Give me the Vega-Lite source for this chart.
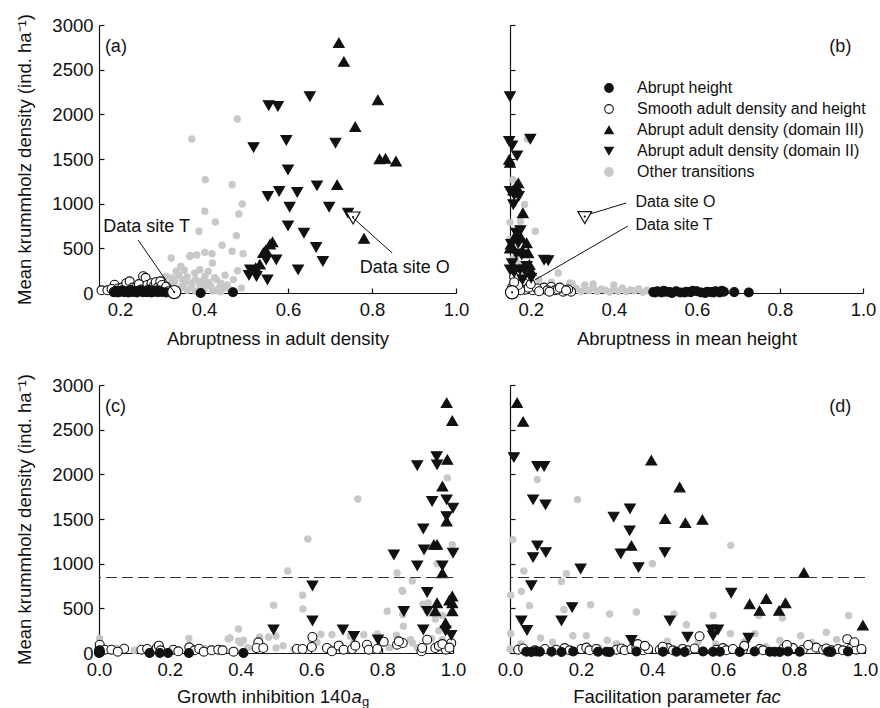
{
"$schema":"https://vega.github.io/schema/vega-lite/v6.json",
"background":"white",
"padding":{"left":15,"top":13,"right":0,"bottom":0},
"config":{"view":{"stroke":null},"font":"Liberation Sans",
"axis":{"grid":false,"labelFlush":false,"labelFont":"Liberation Sans","labelFontSize":18.5,"labelColor":"#111","titleFont":"Liberation Sans","titleFontSize":18.5,"titleFontWeight":"normal","titleColor":"#111","domainColor":"#111","tickColor":"#111","domainWidth":1.2,"tickWidth":1.2,"tickSize":-5},
"axisX":{"labelPadding":12,"titlePadding":11},
"axisY":{"labelPadding":11,"titlePadding":17},
"legend":{"symbolSize":75,"symbolStrokeWidth":1.1},
"text":{"font":"Liberation Sans","color":"#111"}},
"datasets":{
"a":[
{"x":0.479,"y":1948,"c":"O"},{"x":0.371,"y":1724,"c":"O"},{"x":0.403,"y":1269,"c":"O"},{"x":0.467,"y":1213,"c":"O"},{"x":0.491,"y":997,"c":"O"},{"x":0.402,"y":915,"c":"O"},{"x":0.483,"y":885,"c":"O"},{"x":0.427,"y":795,"c":"O"},{"x":0.388,"y":691,"c":"O"},{"x":0.477,"y":642,"c":"O"},{"x":0.443,"y":534,"c":"O"},{"x":0.322,"y":392,"c":"O"},{"x":0.368,"y":418,"c":"O"},{"x":0.383,"y":425,"c":"O"},{"x":0.402,"y":455,"c":"O"},{"x":0.419,"y":440,"c":"O"},{"x":0.467,"y":467,"c":"O"},{"x":0.493,"y":440,"c":"O"},{"x":0.42,"y":336,"c":"O"},{"x":0.345,"y":299,"c":"O"},{"x":0.334,"y":243,"c":"O"},{"x":0.353,"y":254,"c":"O"},{"x":0.378,"y":224,"c":"O"},{"x":0.402,"y":187,"c":"O"},{"x":0.416,"y":82,"c":"O"},{"x":0.371,"y":112,"c":"O"},{"x":0.39,"y":93,"c":"O"},{"x":0.349,"y":149,"c":"O"},{"x":0.324,"y":168,"c":"O"},{"x":0.31,"y":187,"c":"O"},{"x":0.436,"y":56,"c":"O"},{"x":0.462,"y":37,"c":"O"},{"x":0.489,"y":56,"c":"O"},{"x":0.366,"y":411,"c":"O"},{"x":0.34,"y":200,"c":"O"},{"x":0.36,"y":180,"c":"O"},{"x":0.33,"y":130,"c":"O"},{"x":0.35,"y":90,"c":"O"},{"x":0.37,"y":60,"c":"O"},{"x":0.38,"y":150,"c":"O"},{"x":0.395,"y":130,"c":"O"},{"x":0.41,"y":120,"c":"O"},{"x":0.425,"y":170,"c":"O"},{"x":0.44,"y":110,"c":"O"},{"x":0.455,"y":90,"c":"O"},{"x":0.36,"y":30,"c":"O"},{"x":0.38,"y":20,"c":"O"},{"x":0.4,"y":40,"c":"O"},{"x":0.42,"y":25,"c":"O"},{"x":0.44,"y":15,"c":"O"},{"x":0.45,"y":60,"c":"O"},{"x":0.34,"y":40,"c":"O"},{"x":0.345,"y":60,"c":"O"},{"x":0.355,"y":120,"c":"O"},{"x":0.39,"y":260,"c":"O"},{"x":0.41,"y":240,"c":"O"},{"x":0.43,"y":150,"c":"O"},{"x":0.45,"y":200,"c":"O"},{"x":0.47,"y":150,"c":"O"},{"x":0.32,"y":100,"c":"O"},{"x":0.3,"y":150,"c":"O"},{"x":0.28,"y":120,"c":"O"},{"x":0.31,"y":60,"c":"O"},{"x":0.4,"y":75,"c":"O"},{"x":0.43,"y":30,"c":"O"},{"x":0.48,"y":250,"c":"O"},
{"x":0.156,"y":30,"c":"S"},{"x":0.17,"y":30,"c":"S"},{"x":0.187,"y":93,"c":"S"},{"x":0.195,"y":50,"c":"S"},{"x":0.205,"y":60,"c":"S"},{"x":0.215,"y":110,"c":"S"},{"x":0.223,"y":131,"c":"S"},{"x":0.23,"y":60,"c":"S"},{"x":0.24,"y":70,"c":"S"},{"x":0.245,"y":100,"c":"S"},{"x":0.255,"y":187,"c":"S"},{"x":0.261,"y":170,"c":"S"},{"x":0.265,"y":90,"c":"S"},{"x":0.27,"y":50,"c":"S"},{"x":0.275,"y":110,"c":"S"},{"x":0.28,"y":75,"c":"S"},{"x":0.285,"y":120,"c":"S"},{"x":0.29,"y":60,"c":"S"},{"x":0.296,"y":131,"c":"S"},{"x":0.3,"y":90,"c":"S"},{"x":0.305,"y":40,"c":"S"},{"x":0.31,"y":70,"c":"S"},{"x":0.315,"y":20,"c":"S"},{"x":0.2,"y":20,"c":"S"},{"x":0.18,"y":45,"c":"S"},{"x":0.25,"y":40,"c":"S"},{"x":0.29,"y":30,"c":"S"},
{"x":0.185,"y":10,"c":"H"},{"x":0.19,"y":25,"c":"H"},{"x":0.195,"y":5,"c":"H"},{"x":0.2,"y":15,"c":"H"},{"x":0.205,"y":30,"c":"H"},{"x":0.21,"y":8,"c":"H"},{"x":0.215,"y":20,"c":"H"},{"x":0.22,"y":5,"c":"H"},{"x":0.225,"y":35,"c":"H"},{"x":0.23,"y":12,"c":"H"},{"x":0.235,"y":25,"c":"H"},{"x":0.24,"y":5,"c":"H"},{"x":0.245,"y":18,"c":"H"},{"x":0.25,"y":30,"c":"H"},{"x":0.255,"y":8,"c":"H"},{"x":0.26,"y":20,"c":"H"},{"x":0.265,"y":10,"c":"H"},{"x":0.27,"y":35,"c":"H"},{"x":0.275,"y":5,"c":"H"},{"x":0.28,"y":15,"c":"H"},{"x":0.285,"y":25,"c":"H"},{"x":0.29,"y":8,"c":"H"},{"x":0.295,"y":20,"c":"H"},{"x":0.3,"y":12,"c":"H"},{"x":0.31,"y":5,"c":"H"},{"x":0.392,"y":0,"c":"H"},{"x":0.469,"y":8,"c":"H"},
{"x":0.721,"y":2800,"c":"U"},{"x":0.733,"y":2590,"c":"U"},{"x":0.814,"y":2160,"c":"U"},{"x":0.76,"y":1860,"c":"U"},{"x":0.818,"y":1500,"c":"U"},{"x":0.832,"y":1505,"c":"U"},{"x":0.857,"y":1475,"c":"U"},{"x":0.717,"y":1210,"c":"U"},{"x":0.781,"y":610,"c":"U"},{"x":0.563,"y":570,"c":"U"},{"x":0.557,"y":545,"c":"U"},{"x":0.547,"y":480,"c":"U"},{"x":0.541,"y":450,"c":"U"},{"x":0.533,"y":320,"c":"U"},{"x":0.523,"y":280,"c":"U"},
{"x":0.554,"y":2100,"c":"D"},{"x":0.576,"y":2090,"c":"D"},{"x":0.652,"y":2200,"c":"D"},{"x":0.518,"y":1630,"c":"D"},{"x":0.596,"y":1710,"c":"D"},{"x":0.713,"y":1680,"c":"D"},{"x":0.6,"y":1380,"c":"D"},{"x":0.552,"y":1083,"c":"D"},{"x":0.579,"y":1139,"c":"D"},{"x":0.622,"y":1128,"c":"D"},{"x":0.669,"y":1202,"c":"D"},{"x":0.604,"y":963,"c":"D"},{"x":0.698,"y":963,"c":"D"},{"x":0.743,"y":896,"c":"D"},{"x":0.6,"y":754,"c":"D"},{"x":0.638,"y":672,"c":"D"},{"x":0.667,"y":512,"c":"D"},{"x":0.572,"y":373,"c":"D"},{"x":0.548,"y":373,"c":"D"},{"x":0.683,"y":355,"c":"D"},{"x":0.624,"y":261,"c":"D"},{"x":0.51,"y":261,"c":"D"},{"x":0.507,"y":200,"c":"D"},{"x":0.525,"y":187,"c":"D"},{"x":0.551,"y":149,"c":"D"}
],
"b":[
{"x":0.192,"y":1724,"c":"O"},{"x":0.157,"y":1269,"c":"O"},{"x":0.185,"y":990,"c":"O"},{"x":0.15,"y":791,"c":"O"},{"x":0.211,"y":691,"c":"O"},{"x":0.16,"y":500,"c":"O"},{"x":0.165,"y":420,"c":"O"},{"x":0.19,"y":260,"c":"O"},{"x":0.155,"y":380,"c":"O"},{"x":0.17,"y":330,"c":"O"},{"x":0.266,"y":224,"c":"O"},{"x":0.294,"y":112,"c":"O"},{"x":0.33,"y":90,"c":"O"},{"x":0.16,"y":1000,"c":"O"},{"x":0.175,"y":800,"c":"O"},{"x":0.15,"y":600,"c":"O"},{"x":0.2,"y":60,"c":"O"},{"x":0.21,"y":30,"c":"O"},{"x":0.22,"y":80,"c":"O"},{"x":0.23,"y":20,"c":"O"},{"x":0.24,"y":50,"c":"O"},{"x":0.25,"y":10,"c":"O"},{"x":0.26,"y":70,"c":"O"},{"x":0.27,"y":40,"c":"O"},{"x":0.28,"y":20,"c":"O"},{"x":0.29,"y":60,"c":"O"},{"x":0.3,"y":30,"c":"O"},{"x":0.31,"y":50,"c":"O"},{"x":0.32,"y":15,"c":"O"},{"x":0.33,"y":40,"c":"O"},{"x":0.34,"y":25,"c":"O"},{"x":0.35,"y":60,"c":"O"},{"x":0.36,"y":20,"c":"O"},{"x":0.37,"y":45,"c":"O"},{"x":0.38,"y":30,"c":"O"},{"x":0.39,"y":10,"c":"O"},{"x":0.4,"y":40,"c":"O"},{"x":0.41,"y":20,"c":"O"},{"x":0.42,"y":55,"c":"O"},{"x":0.43,"y":15,"c":"O"},{"x":0.44,"y":35,"c":"O"},{"x":0.45,"y":25,"c":"O"},{"x":0.46,"y":45,"c":"O"},{"x":0.47,"y":10,"c":"O"},{"x":0.48,"y":30,"c":"O"},{"x":0.49,"y":20,"c":"O"},{"x":0.5,"y":10,"c":"O"},{"x":0.35,"y":100,"c":"O"},{"x":0.4,"y":90,"c":"O"},{"x":0.3,"y":100,"c":"O"},{"x":0.25,"y":120,"c":"O"},{"x":0.22,"y":150,"c":"O"},{"x":0.18,"y":200,"c":"O"},{"x":0.17,"y":120,"c":"O"},{"x":0.155,"y":60,"c":"O"},
{"x":0.16,"y":179,"c":"S"},{"x":0.183,"y":112,"c":"S"},{"x":0.186,"y":37,"c":"S"},{"x":0.205,"y":30,"c":"S"},{"x":0.225,"y":37,"c":"S"},{"x":0.232,"y":60,"c":"S"},{"x":0.249,"y":67,"c":"S"},{"x":0.258,"y":30,"c":"S"},{"x":0.278,"y":15,"c":"S"},{"x":0.297,"y":15,"c":"S"},{"x":0.155,"y":60,"c":"S"},{"x":0.165,"y":40,"c":"S"},{"x":0.175,"y":30,"c":"S"},{"x":0.17,"y":90,"c":"S"},{"x":0.195,"y":60,"c":"S"},{"x":0.215,"y":50,"c":"S"},{"x":0.24,"y":30,"c":"S"},{"x":0.265,"y":40,"c":"S"},{"x":0.27,"y":60,"c":"S"},{"x":0.29,"y":40,"c":"S"},{"x":0.2,"y":100,"c":"S"},{"x":0.22,"y":20,"c":"S"},{"x":0.245,"y":15,"c":"S"},{"x":0.285,"y":30,"c":"S"},{"x":0.16,"y":120,"c":"S"},
{"x":0.495,"y":10,"c":"H"},{"x":0.5,"y":5,"c":"H"},{"x":0.505,"y":20,"c":"H"},{"x":0.515,"y":5,"c":"H"},{"x":0.52,"y":25,"c":"H"},{"x":0.525,"y":15,"c":"H"},{"x":0.535,"y":10,"c":"H"},{"x":0.54,"y":0,"c":"H"},{"x":0.55,"y":20,"c":"H"},{"x":0.56,"y":5,"c":"H"},{"x":0.57,"y":5,"c":"H"},{"x":0.575,"y":15,"c":"H"},{"x":0.585,"y":10,"c":"H"},{"x":0.59,"y":25,"c":"H"},{"x":0.6,"y":20,"c":"H"},{"x":0.61,"y":5,"c":"H"},{"x":0.62,"y":0,"c":"H"},{"x":0.625,"y":15,"c":"H"},{"x":0.635,"y":10,"c":"H"},{"x":0.64,"y":5,"c":"H"},{"x":0.645,"y":20,"c":"H"},{"x":0.655,"y":5,"c":"H"},{"x":0.66,"y":25,"c":"H"},{"x":0.665,"y":15,"c":"H"},{"x":0.69,"y":10,"c":"H"},{"x":0.725,"y":5,"c":"H"},
{"x":0.148,"y":1493,"c":"U"},{"x":0.15,"y":1460,"c":"U"},{"x":0.165,"y":1195,"c":"U"},{"x":0.158,"y":1150,"c":"U"},{"x":0.17,"y":1230,"c":"U"},{"x":0.181,"y":896,"c":"U"},{"x":0.177,"y":616,"c":"U"},{"x":0.19,"y":560,"c":"U"},{"x":0.152,"y":545,"c":"U"},{"x":0.194,"y":448,"c":"U"},{"x":0.197,"y":317,"c":"U"},{"x":0.15,"y":500,"c":"U"},{"x":0.18,"y":470,"c":"U"},{"x":0.2,"y":250,"c":"U"},{"x":0.165,"y":660,"c":"U"},
{"x":0.15,"y":2200,"c":"D"},{"x":0.199,"y":1724,"c":"D"},{"x":0.148,"y":1700,"c":"D"},{"x":0.167,"y":1538,"c":"D"},{"x":0.15,"y":1140,"c":"D"},{"x":0.171,"y":1083,"c":"D"},{"x":0.158,"y":990,"c":"D"},{"x":0.165,"y":672,"c":"D"},{"x":0.153,"y":545,"c":"D"},{"x":0.178,"y":430,"c":"D"},{"x":0.242,"y":365,"c":"D"},{"x":0.232,"y":370,"c":"D"},{"x":0.15,"y":261,"c":"D"},{"x":0.174,"y":261,"c":"D"},{"x":0.201,"y":168,"c":"D"},{"x":0.155,"y":1650,"c":"D"},{"x":0.16,"y":1100,"c":"D"},{"x":0.175,"y":700,"c":"D"},{"x":0.16,"y":230,"c":"D"},{"x":0.19,"y":300,"c":"D"},{"x":0.17,"y":560,"c":"D"},{"x":0.185,"y":260,"c":"D"},{"x":0.155,"y":330,"c":"D"},{"x":0.18,"y":150,"c":"D"},{"x":0.165,"y":440,"c":"D"}
],
"c":[
{"x":0.731,"y":1724,"c":"O"},{"x":0.59,"y":1277,"c":"O"},{"x":0.533,"y":918,"c":"O"},{"x":0.842,"y":896,"c":"O"},{"x":0.885,"y":806,"c":"O"},{"x":0.575,"y":646,"c":"O"},{"x":0.858,"y":690,"c":"O"},{"x":0.493,"y":534,"c":"O"},{"x":0.576,"y":493,"c":"O"},{"x":0.814,"y":467,"c":"O"},{"x":0.858,"y":430,"c":"O"},{"x":0.915,"y":545,"c":"O"},{"x":0.394,"y":269,"c":"O"},{"x":0.254,"y":164,"c":"O"},{"x":0.365,"y":157,"c":"O"},{"x":0.394,"y":134,"c":"O"},{"x":0.408,"y":142,"c":"O"},{"x":0.454,"y":179,"c":"O"},{"x":0.479,"y":179,"c":"O"},{"x":0.5,"y":56,"c":"O"},{"x":0.616,"y":120,"c":"O"},{"x":0.658,"y":205,"c":"O"},{"x":0.748,"y":205,"c":"O"},{"x":0.786,"y":213,"c":"O"},{"x":0.885,"y":112,"c":"O"},{"x":0.002,"y":164,"c":"O"},{"x":0.984,"y":1960,"c":"O"},{"x":0.998,"y":1213,"c":"O"},{"x":0.955,"y":1000,"c":"O"},{"x":0.856,"y":702,"c":"O"},{"x":0.93,"y":560,"c":"O"},{"x":0.86,"y":480,"c":"O"},{"x":0.93,"y":470,"c":"O"},{"x":0.96,"y":250,"c":"O"},{"x":0.94,"y":160,"c":"O"},{"x":0.97,"y":150,"c":"O"},{"x":0.37,"y":168,"c":"O"},{"x":0.4,"y":112,"c":"O"},{"x":0.5,"y":190,"c":"O"},{"x":0.52,"y":80,"c":"O"},{"x":0.627,"y":209,"c":"O"},{"x":0.6,"y":150,"c":"O"},{"x":0.71,"y":190,"c":"O"},{"x":0.8,"y":120,"c":"O"},{"x":0.84,"y":200,"c":"O"},{"x":0.88,"y":150,"c":"O"},{"x":0.9,"y":60,"c":"O"},{"x":0.82,"y":60,"c":"O"},{"x":0.76,"y":80,"c":"O"},{"x":0.68,"y":100,"c":"O"},{"x":0.55,"y":40,"c":"O"},{"x":0.45,"y":80,"c":"O"},{"x":0.42,"y":60,"c":"O"},{"x":0.3,"y":50,"c":"O"},{"x":0.1,"y":30,"c":"O"},{"x":0.05,"y":50,"c":"O"},{"x":0.65,"y":60,"c":"O"},{"x":0.72,"y":120,"c":"O"},{"x":0.86,"y":300,"c":"O"},{"x":0.95,"y":380,"c":"O"},{"x":0.97,"y":420,"c":"O"},
{"x":0.002,"y":56,"c":"S"},{"x":0.002,"y":93,"c":"S"},{"x":0.017,"y":37,"c":"S"},{"x":0.035,"y":37,"c":"S"},{"x":0.071,"y":48,"c":"S"},{"x":0.053,"y":15,"c":"S"},{"x":0.12,"y":37,"c":"S"},{"x":0.136,"y":45,"c":"S"},{"x":0.163,"y":56,"c":"S"},{"x":0.169,"y":82,"c":"S"},{"x":0.174,"y":30,"c":"S"},{"x":0.21,"y":37,"c":"S"},{"x":0.224,"y":19,"c":"S"},{"x":0.255,"y":63,"c":"S"},{"x":0.27,"y":30,"c":"S"},{"x":0.283,"y":48,"c":"S"},{"x":0.296,"y":15,"c":"S"},{"x":0.318,"y":30,"c":"S"},{"x":0.337,"y":37,"c":"S"},{"x":0.349,"y":30,"c":"S"},{"x":0.38,"y":15,"c":"S"},{"x":0.45,"y":119,"c":"S"},{"x":0.445,"y":56,"c":"S"},{"x":0.464,"y":56,"c":"S"},{"x":0.559,"y":45,"c":"S"},{"x":0.575,"y":45,"c":"S"},{"x":0.601,"y":67,"c":"S"},{"x":0.603,"y":179,"c":"S"},{"x":0.644,"y":56,"c":"S"},{"x":0.658,"y":19,"c":"S"},{"x":0.677,"y":82,"c":"S"},{"x":0.691,"y":37,"c":"S"},{"x":0.715,"y":45,"c":"S"},{"x":0.724,"y":82,"c":"S"},{"x":0.757,"y":93,"c":"S"},{"x":0.762,"y":37,"c":"S"},{"x":0.786,"y":45,"c":"S"},{"x":0.804,"y":127,"c":"S"},{"x":0.842,"y":93,"c":"S"},{"x":0.858,"y":112,"c":"S"},{"x":0.911,"y":19,"c":"S"},{"x":0.927,"y":149,"c":"S"},{"x":0.95,"y":56,"c":"S"},{"x":0.847,"y":131,"c":"S"},{"x":0.913,"y":56,"c":"S"},{"x":0.96,"y":80,"c":"S"},{"x":0.98,"y":37,"c":"S"},{"x":0.995,"y":110,"c":"S"},{"x":0.97,"y":100,"c":"S"},{"x":0.99,"y":60,"c":"S"},
{"x":0,"y":0,"c":"H"},{"x":0,"y":15,"c":"H"},{"x":0.002,"y":30,"c":"H"},{"x":0.003,"y":8,"c":"H"},{"x":0,"y":22,"c":"H"},{"x":0.143,"y":0,"c":"H"},{"x":0.172,"y":0,"c":"H"},{"x":0.195,"y":0,"c":"H"},{"x":0.254,"y":0,"c":"H"},{"x":0.408,"y":0,"c":"H"},
{"x":0.982,"y":2800,"c":"U"},{"x":0.998,"y":2600,"c":"U"},{"x":0.984,"y":2165,"c":"U"},{"x":0.97,"y":1866,"c":"U"},{"x":0.982,"y":1475,"c":"U"},{"x":0.946,"y":1213,"c":"U"},{"x":0.955,"y":1213,"c":"U"},{"x":0.97,"y":895,"c":"U"},{"x":0.998,"y":635,"c":"U"},{"x":0.998,"y":560,"c":"U"},{"x":0.955,"y":560,"c":"U"},{"x":0.95,"y":470,"c":"U"},{"x":0.979,"y":336,"c":"U"},{"x":0.998,"y":470,"c":"U"},{"x":0.99,"y":590,"c":"U"},
{"x":0.899,"y":2100,"c":"D"},{"x":0.955,"y":2109,"c":"D"},{"x":0.954,"y":2200,"c":"D"},{"x":0.941,"y":1698,"c":"D"},{"x":0.982,"y":1717,"c":"D"},{"x":1.0,"y":1624,"c":"D"},{"x":0.982,"y":1530,"c":"D"},{"x":0.916,"y":1392,"c":"D"},{"x":0.918,"y":1157,"c":"D"},{"x":1.0,"y":1120,"c":"D"},{"x":0.833,"y":1101,"c":"D"},{"x":0.899,"y":978,"c":"D"},{"x":0.97,"y":978,"c":"D"},{"x":0.927,"y":680,"c":"D"},{"x":0.603,"y":754,"c":"D"},{"x":0.861,"y":467,"c":"D"},{"x":0.927,"y":467,"c":"D"},{"x":0.603,"y":362,"c":"D"},{"x":0.493,"y":261,"c":"D"},{"x":0.689,"y":261,"c":"D"},{"x":0.72,"y":187,"c":"D"},{"x":0.788,"y":149,"c":"D"},{"x":0.916,"y":261,"c":"D"},{"x":0.979,"y":250,"c":"D"},{"x":0.995,"y":200,"c":"D"}
],
"d":[
{"x":0.077,"y":1941,"c":"O"},{"x":0.19,"y":1717,"c":"O"},{"x":0.008,"y":1269,"c":"O"},{"x":0.622,"y":1205,"c":"O"},{"x":0.401,"y":1000,"c":"O"},{"x":0.039,"y":918,"c":"O"},{"x":0.159,"y":888,"c":"O"},{"x":0.145,"y":799,"c":"O"},{"x":0.032,"y":690,"c":"O"},{"x":0.002,"y":646,"c":"O"},{"x":0.227,"y":541,"c":"O"},{"x":0.055,"y":530,"c":"O"},{"x":0.152,"y":485,"c":"O"},{"x":0.281,"y":436,"c":"O"},{"x":0.356,"y":459,"c":"O"},{"x":0.462,"y":436,"c":"O"},{"x":0.572,"y":421,"c":"O"},{"x":0.701,"y":421,"c":"O"},{"x":0.767,"y":391,"c":"O"},{"x":0.954,"y":421,"c":"O"},{"x":0.002,"y":216,"c":"O"},{"x":0.086,"y":168,"c":"O"},{"x":0.177,"y":194,"c":"O"},{"x":0.215,"y":194,"c":"O"},{"x":0.274,"y":142,"c":"O"},{"x":0.443,"y":131,"c":"O"},{"x":0.497,"y":317,"c":"O"},{"x":0.621,"y":216,"c":"O"},{"x":0.69,"y":216,"c":"O"},{"x":0.76,"y":140,"c":"O"},{"x":0.819,"y":194,"c":"O"},{"x":0.891,"y":231,"c":"O"},{"x":0.92,"y":150,"c":"O"},{"x":0.0,"y":44,"c":"O"},{"x":0.03,"y":100,"c":"O"},{"x":0.12,"y":120,"c":"O"},{"x":0.3,"y":100,"c":"O"},{"x":0.38,"y":80,"c":"O"},{"x":0.53,"y":120,"c":"O"},{"x":0.58,"y":100,"c":"O"},{"x":0.66,"y":130,"c":"O"},{"x":0.85,"y":120,"c":"O"},{"x":0.97,"y":90,"c":"O"},{"x":0.25,"y":60,"c":"O"},{"x":0.48,"y":60,"c":"O"},{"x":0.72,"y":70,"c":"O"},
{"x":0.023,"y":37,"c":"S"},{"x":0.037,"y":50,"c":"S"},{"x":0.07,"y":30,"c":"S"},{"x":0.098,"y":45,"c":"S"},{"x":0.13,"y":37,"c":"S"},{"x":0.154,"y":55,"c":"S"},{"x":0.168,"y":30,"c":"S"},{"x":0.201,"y":45,"c":"S"},{"x":0.215,"y":60,"c":"S"},{"x":0.224,"y":30,"c":"S"},{"x":0.243,"y":45,"c":"S"},{"x":0.3,"y":37,"c":"S"},{"x":0.314,"y":50,"c":"S"},{"x":0.323,"y":30,"c":"S"},{"x":0.342,"y":45,"c":"S"},{"x":0.356,"y":60,"c":"S"},{"x":0.375,"y":30,"c":"S"},{"x":0.389,"y":45,"c":"S"},{"x":0.422,"y":37,"c":"S"},{"x":0.445,"y":55,"c":"S"},{"x":0.459,"y":30,"c":"S"},{"x":0.487,"y":45,"c":"S"},{"x":0.501,"y":30,"c":"S"},{"x":0.52,"y":50,"c":"S"},{"x":0.581,"y":37,"c":"S"},{"x":0.6,"y":55,"c":"S"},{"x":0.609,"y":30,"c":"S"},{"x":0.628,"y":45,"c":"S"},{"x":0.656,"y":37,"c":"S"},{"x":0.703,"y":45,"c":"S"},{"x":0.713,"y":30,"c":"S"},{"x":0.769,"y":45,"c":"S"},{"x":0.783,"y":30,"c":"S"},{"x":0.797,"y":55,"c":"S"},{"x":0.825,"y":37,"c":"S"},{"x":0.863,"y":60,"c":"S"},{"x":0.882,"y":37,"c":"S"},{"x":0.891,"y":50,"c":"S"},{"x":0.905,"y":30,"c":"S"},{"x":0.924,"y":45,"c":"S"},{"x":0.938,"y":30,"c":"S"},{"x":0.961,"y":50,"c":"S"},{"x":0.975,"y":37,"c":"S"},{"x":0.99,"y":45,"c":"S"},{"x":0.534,"y":187,"c":"S"},{"x":0.36,"y":100,"c":"S"},{"x":0.95,"y":155,"c":"S"},{"x":0.97,"y":120,"c":"S"},{"x":0.38,"y":80,"c":"S"},{"x":0.43,"y":70,"c":"S"},{"x":0.66,"y":80,"c":"S"},{"x":0.78,"y":90,"c":"S"},{"x":0.84,"y":90,"c":"S"},
{"x":0.046,"y":15,"c":"H"},{"x":0.06,"y":12,"c":"H"},{"x":0.074,"y":18,"c":"H"},{"x":0.084,"y":14,"c":"H"},{"x":0.117,"y":15,"c":"H"},{"x":0.145,"y":12,"c":"H"},{"x":0.178,"y":16,"c":"H"},{"x":0.248,"y":14,"c":"H"},{"x":0.272,"y":15,"c":"H"},{"x":0.281,"y":12,"c":"H"},{"x":0.356,"y":16,"c":"H"},{"x":0.431,"y":14,"c":"H"},{"x":0.469,"y":15,"c":"H"},{"x":0.492,"y":12,"c":"H"},{"x":0.544,"y":16,"c":"H"},{"x":0.572,"y":14,"c":"H"},{"x":0.591,"y":15,"c":"H"},{"x":0.647,"y":12,"c":"H"},{"x":0.689,"y":16,"c":"H"},{"x":0.732,"y":14,"c":"H"},{"x":0.746,"y":15,"c":"H"},{"x":0.76,"y":12,"c":"H"},{"x":0.783,"y":16,"c":"H"},{"x":0.816,"y":14,"c":"H"},{"x":0.896,"y":15,"c":"H"},{"x":0.905,"y":12,"c":"H"},{"x":0.952,"y":16,"c":"H"},
{"x":0.02,"y":2800,"c":"U"},{"x":0.037,"y":2590,"c":"U"},{"x":0.398,"y":2157,"c":"U"},{"x":0.478,"y":1856,"c":"U"},{"x":0.437,"y":1501,"c":"U"},{"x":0.494,"y":1456,"c":"U"},{"x":0.542,"y":1493,"c":"U"},{"x":0.342,"y":1202,"c":"U"},{"x":0.828,"y":898,"c":"U"},{"x":0.675,"y":548,"c":"U"},{"x":0.722,"y":608,"c":"U"},{"x":0.703,"y":474,"c":"U"},{"x":0.758,"y":474,"c":"U"},{"x":0.776,"y":560,"c":"U"},{"x":0.994,"y":310,"c":"U"},
{"x":0.011,"y":2190,"c":"D"},{"x":0.077,"y":2090,"c":"D"},{"x":0.096,"y":2090,"c":"D"},{"x":0.065,"y":1717,"c":"D"},{"x":0.1,"y":1661,"c":"D"},{"x":0.292,"y":1523,"c":"D"},{"x":0.338,"y":1616,"c":"D"},{"x":0.337,"y":1370,"c":"D"},{"x":0.077,"y":1202,"c":"D"},{"x":0.065,"y":1071,"c":"D"},{"x":0.101,"y":1127,"c":"D"},{"x":0.312,"y":1112,"c":"D"},{"x":0.436,"y":1127,"c":"D"},{"x":0.199,"y":943,"c":"D"},{"x":0.362,"y":959,"c":"D"},{"x":0.06,"y":755,"c":"D"},{"x":0.623,"y":672,"c":"D"},{"x":0.175,"y":511,"c":"D"},{"x":0.032,"y":362,"c":"D"},{"x":0.145,"y":362,"c":"D"},{"x":0.45,"y":362,"c":"D"},{"x":0.048,"y":254,"c":"D"},{"x":0.567,"y":261,"c":"D"},{"x":0.586,"y":261,"c":"D"},{"x":0.572,"y":194,"c":"D"},{"x":0.5,"y":179,"c":"D"},{"x":0.342,"y":142,"c":"D"},{"x":0.672,"y":168,"c":"D"}
]
},
"bounds":"flush",
"columns":2,
"spacing":{"row":92,"column":54},
"concat":[
{"width":357,"height":268,"layer":[
 {"data":{"name":"a"},"mark":{"type":"point","filled":true,"opacity":1,"strokeWidth":1.1},
  "encoding":{
   "x":{"field":"x","type":"quantitative","scale":{"domain":[0.15,1],"nice":false,"zero":false,"padding":0},"axis":{"values":[0.2,0.4,0.6,0.8,1],"format":".1f","title":"Abruptness in adult density"}},
   "y":{"field":"y","type":"quantitative","scale":{"domain":[0,3000],"nice":false,"padding":0},"axis":{"values":[0,500,1000,1500,2000,2500,3000],"format":"d","title":"Mean krummholz density (ind. ha⁻¹)"}},
   "shape":{"field":"c","type":"nominal","scale":{"domain":["H","S","U","D","O"],"range":["circle","circle","triangle-up","triangle-down","circle"]}},
   "fill":{"field":"c","type":"nominal","scale":{"domain":["H","S","U","D","O"],"range":["#111111","#ffffff","#111111","#111111","#c8c8c8"]}},
   "stroke":{"field":"c","type":"nominal","scale":{"domain":["H","S","U","D","O"],"range":["#111111","#111111","#111111","#111111","#c8c8c8"]}},
   "size":{"condition":[{"test":"datum.c==='O'","value":40},{"test":"datum.c==='U'||datum.c==='D'","value":115}],"value":80}}},
 {"data":{"values":[{"x":0.329,"y":10}]},"mark":{"type":"point","shape":"circle","size":175,"filled":true,"fill":"#ffffff","stroke":"#111111","strokeWidth":1.2,"opacity":1},"encoding":{"x":{"field":"x","type":"quantitative"},"y":{"field":"y","type":"quantitative"}}},
 {"data":{"values":[{"x":0.755,"y":840}]},"mark":{"type":"point","shape":"triangle-down","size":190,"filled":true,"fill":"#ffffff","stroke":"#111111","strokeWidth":1.2,"opacity":1},"encoding":{"x":{"field":"x","type":"quantitative"},"y":{"field":"y","type":"quantitative"}}},
 {"data":{"values":[{"x":0.243,"y":594,"x2":0.329,"y2":10},{"x":0.848,"y":448,"x2":0.755,"y2":840}]},"mark":{"type":"rule","color":"#111111","strokeWidth":1},"encoding":{"x":{"field":"x","type":"quantitative"},"y":{"field":"y","type":"quantitative"},"x2":{"field":"x2"},"y2":{"field":"y2"}}},
 {"data":{"values":[{"x":0.329,"y":10},{"x":0.755,"y":850}]},"mark":{"type":"point","shape":"circle","size":5,"filled":true,"fill":"#111111","opacity":1},"encoding":{"x":{"field":"x","type":"quantitative"},"y":{"field":"y","type":"quantitative"}}},
 {"data":{"values":[{"x":0.16,"y":739,"t":"Data site T"},{"x":0.771,"y":280,"t":"Data site O"}]},"mark":{"type":"text","align":"left","baseline":"middle","fontSize":18},"encoding":{"x":{"field":"x","type":"quantitative"},"y":{"field":"y","type":"quantitative"},"text":{"field":"t"}}},
 {"data":{"values":[{"x":0.164,"y":2755,"t":"(a)"}]},"mark":{"type":"text","align":"left","baseline":"middle","fontSize":18},"encoding":{"x":{"field":"x","type":"quantitative"},"y":{"field":"y","type":"quantitative"},"text":{"field":"t"}}}
]},
{"width":353,"height":268,"layer":[
 {"data":{"name":"b"},"mark":{"type":"point","filled":true,"opacity":1,"strokeWidth":1.1},
  "encoding":{
   "x":{"field":"x","type":"quantitative","scale":{"domain":[0.15,1],"nice":false,"zero":false,"padding":0},"axis":{"values":[0.2,0.4,0.6,0.8,1],"format":".1f","title":"Abruptness in mean height"}},
   "y":{"field":"y","type":"quantitative","scale":{"domain":[0,3000],"nice":false,"padding":0},"axis":{"values":[0,500,1000,1500,2000,2500,3000],"labels":false,"title":null}},
   "shape":{"field":"c","type":"nominal","scale":{"domain":["H","S","U","D","O"],"range":["circle","circle","triangle-up","triangle-down","circle"]},
     "legend":{"title":null,"orient":"none","legendX":502,"legendY":55,"labelFont":"Liberation Sans","labelFontSize":16,"labelColor":"#111","labelLimit":0,"rowPadding":5,"labelOffset":20,
       "labelExpr":"datum.label==='H'?'Abrupt height':datum.label==='S'?'Smooth adult density and height':datum.label==='U'?'Abrupt adult density (domain III)':datum.label==='D'?'Abrupt adult density (domain II)':'Other transitions'"}},
   "fill":{"field":"c","type":"nominal","scale":{"domain":["H","S","U","D","O"],"range":["#111111","#ffffff","#111111","#111111","#c8c8c8"]}},
   "stroke":{"field":"c","type":"nominal","scale":{"domain":["H","S","U","D","O"],"range":["#111111","#111111","#111111","#111111","#c8c8c8"]}},
   "size":{"condition":[{"test":"datum.c==='O'","value":40},{"test":"datum.c==='U'||datum.c==='D'","value":115}],"value":80}}},
 {"data":{"values":[{"x":0.155,"y":8}]},"mark":{"type":"point","shape":"circle","size":175,"filled":true,"fill":"#ffffff","stroke":"#111111","strokeWidth":1.2,"opacity":1},"encoding":{"x":{"field":"x","type":"quantitative"},"y":{"field":"y","type":"quantitative"}}},
 {"data":{"values":[{"x":0.434,"y":750,"x2":0.21,"y2":146},{"x":0.43,"y":1008,"x2":0.343,"y2":885}]},"mark":{"type":"rule","color":"#111111","strokeWidth":1},"encoding":{"x":{"field":"x","type":"quantitative"},"y":{"field":"y","type":"quantitative"},"x2":{"field":"x2"},"y2":{"field":"y2"}}},
 {"data":{"values":[{"x":0.33,"y":845}]},"mark":{"type":"point","shape":"triangle-down","size":190,"filled":true,"fill":"#ffffff","stroke":"#111111","strokeWidth":1.2,"opacity":1},"encoding":{"x":{"field":"x","type":"quantitative"},"y":{"field":"y","type":"quantitative"}}},
 {"data":{"values":[{"x":0.155,"y":8},{"x":0.33,"y":855}]},"mark":{"type":"point","shape":"circle","size":5,"filled":true,"fill":"#111111","opacity":1},"encoding":{"x":{"field":"x","type":"quantitative"},"y":{"field":"y","type":"quantitative"}}},
 {"data":{"values":[{"x":0.452,"y":1019,"t":"Data site O"},{"x":0.452,"y":761,"t":"Data site T"}]},"mark":{"type":"text","align":"left","baseline":"middle","fontSize":16},"encoding":{"x":{"field":"x","type":"quantitative"},"y":{"field":"y","type":"quantitative"},"text":{"field":"t"}}},
 {"data":{"values":[{"x":0.972,"y":2755,"t":"(b)"}]},"mark":{"type":"text","align":"right","baseline":"middle","fontSize":18},"encoding":{"x":{"field":"x","type":"quantitative"},"y":{"field":"y","type":"quantitative"},"text":{"field":"t"}}}
]},
{"width":354,"height":268,"layer":[
 {"data":{"name":"c"},"mark":{"type":"point","filled":true,"opacity":1,"strokeWidth":1.1},
  "encoding":{
   "x":{"field":"x","type":"quantitative","scale":{"domain":[0,1],"nice":false,"zero":false,"padding":0},"axis":{"values":[0,0.2,0.4,0.6,0.8,1],"format":".1f","title":null}},
   "y":{"field":"y","type":"quantitative","scale":{"domain":[0,3000],"nice":false,"padding":0},"axis":{"values":[0,500,1000,1500,2000,2500,3000],"format":"d","title":"Mean krummholz density (ind. ha⁻¹)"}},
   "shape":{"field":"c","type":"nominal","scale":{"domain":["H","S","U","D","O"],"range":["circle","circle","triangle-up","triangle-down","circle"]}},
   "fill":{"field":"c","type":"nominal","scale":{"domain":["H","S","U","D","O"],"range":["#111111","#ffffff","#111111","#111111","#c8c8c8"]}},
   "stroke":{"field":"c","type":"nominal","scale":{"domain":["H","S","U","D","O"],"range":["#111111","#111111","#111111","#111111","#c8c8c8"]}},
   "size":{"condition":[{"test":"datum.c==='O'","value":40},{"test":"datum.c==='U'||datum.c==='D'","value":115}],"value":80}}},
 {"data":{"values":[{"y":845}]},"mark":{"type":"rule","color":"#333333","strokeWidth":1.2,"strokeDash":[11,5]},"encoding":{"y":{"field":"y","type":"quantitative"}}},
 {"data":{"values":[{"x":0.711,"y":-565,"t":"Growth inhibition 140"}]},"mark":{"type":"text","align":"right","baseline":"alphabetic","fontSize":18.5},"encoding":{"x":{"field":"x","type":"quantitative"},"y":{"field":"y","type":"quantitative"},"text":{"field":"t"}}},
 {"data":{"values":[{"x":0.713,"y":-565,"t":"a"}]},"mark":{"type":"text","align":"left","baseline":"alphabetic","fontSize":18.5,"fontStyle":"italic"},"encoding":{"x":{"field":"x","type":"quantitative"},"y":{"field":"y","type":"quantitative"},"text":{"field":"t"}}},
 {"data":{"values":[{"x":0.743,"y":-565,"t":"g"}]},"mark":{"type":"text","align":"left","baseline":"alphabetic","fontSize":13,"dy":3},"encoding":{"x":{"field":"x","type":"quantitative"},"y":{"field":"y","type":"quantitative"},"text":{"field":"t"}}},
 {"data":{"values":[{"x":0.017,"y":2755,"t":"(c)"}]},"mark":{"type":"text","align":"left","baseline":"middle","fontSize":18},"encoding":{"x":{"field":"x","type":"quantitative"},"y":{"field":"y","type":"quantitative"},"text":{"field":"t"}}}
]},
{"width":355,"height":268,"layer":[
 {"data":{"name":"d"},"mark":{"type":"point","filled":true,"opacity":1,"strokeWidth":1.1},
  "encoding":{
   "x":{"field":"x","type":"quantitative","scale":{"domain":[0,1],"nice":false,"zero":false,"padding":0},"axis":{"values":[0,0.2,0.4,0.6,0.8,1],"format":".1f","title":null}},
   "y":{"field":"y","type":"quantitative","scale":{"domain":[0,3000],"nice":false,"padding":0},"axis":{"values":[0,500,1000,1500,2000,2500,3000],"labels":false,"title":null}},
   "shape":{"field":"c","type":"nominal","scale":{"domain":["H","S","U","D","O"],"range":["circle","circle","triangle-up","triangle-down","circle"]}},
   "fill":{"field":"c","type":"nominal","scale":{"domain":["H","S","U","D","O"],"range":["#111111","#ffffff","#111111","#111111","#c8c8c8"]}},
   "stroke":{"field":"c","type":"nominal","scale":{"domain":["H","S","U","D","O"],"range":["#111111","#111111","#111111","#111111","#c8c8c8"]}},
   "size":{"condition":[{"test":"datum.c==='O'","value":40},{"test":"datum.c==='U'||datum.c==='D'","value":115}],"value":80}}},
 {"data":{"values":[{"y":845}]},"mark":{"type":"rule","color":"#333333","strokeWidth":1.2,"strokeDash":[11,5]},"encoding":{"y":{"field":"y","type":"quantitative"}}},
 {"data":{"values":[{"x":0.679,"y":-565,"t":"Facilitation parameter"}]},"mark":{"type":"text","align":"right","baseline":"alphabetic","fontSize":18.5},"encoding":{"x":{"field":"x","type":"quantitative"},"y":{"field":"y","type":"quantitative"},"text":{"field":"t"}}},
 {"data":{"values":[{"x":0.693,"y":-565,"t":"fac"}]},"mark":{"type":"text","align":"left","baseline":"alphabetic","fontSize":18.5,"fontStyle":"italic"},"encoding":{"x":{"field":"x","type":"quantitative"},"y":{"field":"y","type":"quantitative"},"text":{"field":"t"}}},
 {"data":{"values":[{"x":0.961,"y":2755,"t":"(d)"}]},"mark":{"type":"text","align":"right","baseline":"middle","fontSize":18},"encoding":{"x":{"field":"x","type":"quantitative"},"y":{"field":"y","type":"quantitative"},"text":{"field":"t"}}}
]}
]
}
